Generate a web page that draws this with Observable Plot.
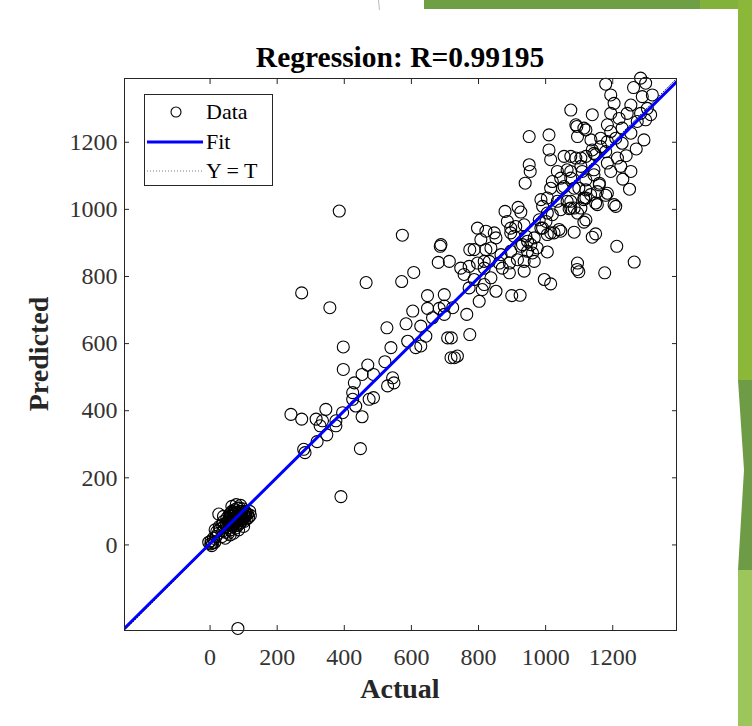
<!DOCTYPE html>
<html><head><meta charset="utf-8">
<script src="https://cdn.jsdelivr.net/npm/d3@7"></script>
<script src="https://cdn.jsdelivr.net/npm/@observablehq/plot@0.6"></script>
<style>
html,body{margin:0;padding:0;background:#fff;}
body{width:752px;height:726px;overflow:hidden;position:relative;font-family:"Liberation Serif","Times New Roman",serif;}
#chart{position:absolute;left:0;top:0;z-index:1;}
#decoLayer{position:absolute;left:0;top:0;width:752px;height:726px;z-index:10;pointer-events:none;}
.title{position:absolute;left:124px;width:552px;top:41px;text-align:center;font-weight:bold;font-size:29.5px;color:#000;line-height:32px;z-index:3;}
.xlabel{position:absolute;left:124px;width:552px;top:673px;text-align:center;font-weight:bold;font-size:28px;color:#262626;line-height:32px;z-index:3;}
.ylabel{position:absolute;left:39px;top:354px;transform:translate(-50%,-50%) rotate(-90deg);font-weight:bold;font-size:28px;color:#262626;white-space:nowrap;line-height:32px;z-index:3;}
.legend{position:absolute;left:144px;top:94px;width:127px;height:90px;border:1px solid #262626;background:#fff;z-index:3;}
.row{position:absolute;left:0;height:30px;width:127px;}
.row svg{position:absolute;left:0;top:0;}
.row span{position:absolute;left:61px;top:2px;font-size:22px;line-height:26px;color:#000;}
</style>
</head><body>
<div id="chart"></div>
<svg id="decoLayer" width="752" height="726" viewBox="0 0 752 726">
  <rect x="424" y="0" width="276" height="9" fill="#6f9f45"/>
  <rect x="700" y="0" width="38" height="9" fill="#82b23c"/>
  <rect x="738" y="0" width="14" height="380" fill="#8cb83a"/>
  <polygon points="738,380 752,380 752,570 738,570 744,470" fill="#6e9b45"/>
  <rect x="738" y="570" width="14" height="156" fill="#9cc65c"/>
  <line x1="378.5" y1="0" x2="379.5" y2="10" stroke="#bbb" stroke-width="1"/>
</svg>
<script>
// ---- data ----
const legendLabels = ["Data", "Fit", "Y = T"];
const titleText = "Regression: R=0.99195";
const xLabel = "Actual";
const yLabel = "Predicted";
const xTicks = [0, 200, 400, 600, 800, 1000, 1200];
const yTicks = [0, 200, 400, 600, 800, 1000, 1200];
const axisDomain = [-255, 1390];
const fitSlope = 0.99;
const fitIntercept = 4;

const actual = [
 // cluster near origin
 2,5,8,3,10,14,-4,18,20,15,25,28,30,26,35,38,40,42,45,48,50,52,55,57,58,60,62,64,65,67,68,70,72,73,75,76,78,80,82,83,85,86,88,90,91,92,94,95,97,98,100,102,104,105,108,110,112,115,118,120,60,70,45,35,55,85,100,78,65,40,
 50,55,60,63,66,70,74,77,80,84,87,90,93,96,99,103,106,58,68,72,82,88,94,62,76,
 // middle region
 385,573,686,680,713,607,571,465,273,357,648,698,604,648,683,698,663,527,584,628,643,708,718,589,613,628,539,397,397,521,470,453,487,430,544,529,548,425,425,434,474,487,395,345,241,273,316,335,328,375,375,453,348,319,279,283,448,390,83,
 // 700-1000 region
 879,918,926,991,1020,1070,1105,1154,1114,1085,1149,1139,1094,1099,1176,996,1015,899,924,1005,936,892,852,802,765,719,774,728,737,688,797,822,847,852,807,774,822,867,886,896,911,936,931,956,975,946,916,892,862,966,986,1025,1015,1045,981,1001,757,772,797,817,832,837,817,772,787,698,723,811,871,747,946,
 1264,1212,1209,1179,1120,1085,
 // upper middle
 951,1010,1010,1015,951,954,939,1093,1120,1095,1135,1164,1179,1144,1075,1105,1035,1075,1045,1109,1144,1160,1020,1015,1050,1085,1120,1154,1005,986,1035,1075,1114,1149,1005,1045,1075,1095,1120,896,906,941,966,991,1005,1040,961,926,896,936,837,787,817,1095,
 // top right
 1179,1283,1298,1262,1194,1288,1318,1204,1254,1075,1139,1194,1243,1303,1313,1283,1219,1090,1114,1184,1194,1228,1273,1298,1254,1293,1209,1184,1228,1164,1139,1055,1090,1120,1149,1214,1184,1224,1254,1144,1194,1105,1064,1075,1120,1160,1055,1099,1134,1184,1204,1114,1064,1240,1270,1230,1250
];
const predicted = [
 3,-2,6,12,20,8,8,25,40,45,35,55,48,92,60,42,70,55,38,65,80,50,72,90,60,45,85,68,100,55,78,92,62,105,80,50,96,70,110,58,88,75,100,65,118,85,95,72,108,80,90,70,100,85,95,78,92,82,100,88,30,35,20,25,35,45,55,120,115,85,
 60,75,70,88,62,80,90,72,85,95,78,88,100,82,96,86,92,66,74,98,64,110,76,94,58,
 995,923,890,842,845,812,785,782,751,707,743,746,697,705,705,687,677,647,659,652,622,617,558,607,588,593,588,590,523,546,536,508,508,483,498,474,483,454,434,414,434,439,394,404,389,375,375,370,355,370,355,382,328,308,285,275,287,144,-249,
 994,1006,992,1009,984,1002,1004,1014,962,932,927,917,821,814,811,791,778,743,744,873,816,811,756,726,687,617,627,558,563,895,944,935,930,915,910,880,880,865,964,930,949,954,895,895,885,875,850,840,840,845,944,930,930,935,969,964,806,830,840,825,845,796,776,766,791,712,707,761,825,825,905,
 843,890,1009,1042,1034,1004,
 1217,1222,1177,1148,1133,1113,1078,1247,1237,1217,1207,1212,1172,1167,1158,1153,1113,1113,1093,1113,1103,1078,1083,1063,1063,1063,1058,1053,1034,1029,1024,1024,1034,1019,989,999,1004,989,969,944,920,920,915,944,925,940,870,890,875,845,885,880,845,840,
 1373,1391,1376,1363,1341,1336,1341,1316,1311,1296,1282,1286,1286,1301,1282,1286,1271,1252,1242,1252,1232,1242,1262,1267,1227,1207,1212,1202,1197,1187,1177,1158,1153,1158,1163,1153,1138,1128,1113,1118,1113,1128,1118,1093,1088,1073,1068,1063,1044,1048,1014,1029,1024,1160,1180,1090,1060
];

const points = actual.map((a, i) => ({actual: a, predicted: predicted[i]}));
const identity = axisDomain.map(t => ({t, v: t}));
const fitLine = axisDomain.map(t => ({t, v: fitSlope * t + fitIntercept}));

const chart = Plot.plot({
  width: 752,
  height: 726,
  marginLeft: 124,
  marginRight: 76,
  marginTop: 78,
  marginBottom: 96,
  x: {domain: axisDomain, label: null},
  y: {domain: axisDomain, label: null},
  style: {fontFamily: "'Liberation Serif', 'Times New Roman', serif", fontSize: "24px", color: "#262626", background: "transparent", overflow: "visible"},
  marks: [
    Plot.dot(points, {x: "actual", y: "predicted", r: 6, stroke: "#000", strokeWidth: 1.1, fill: "none"}),
    Plot.line(identity, {x: "t", y: "v", stroke: "#000", strokeWidth: 0.8, strokeDasharray: "1,2", clip: true}),
    Plot.line(fitLine, {x: "t", y: "v", stroke: "#0000ff", strokeWidth: 3, clip: true}),
    Plot.frame({stroke: "#262626", strokeWidth: 1}),
    Plot.axisX({anchor: "bottom", ticks: xTicks, tickSize: -5, tickPadding: 22, tickFormat: d => String(d), label: null, fill: "#333"}),
    Plot.axisX({anchor: "top", ticks: xTicks, tickSize: -5, tickFormat: () => "", label: null}),
    Plot.axisY({anchor: "left", ticks: yTicks, tickSize: -5, tickPadding: 12, tickFormat: d => String(d), label: null, fill: "#333"}),
    Plot.axisY({anchor: "right", ticks: yTicks, tickSize: -5, tickFormat: () => "", label: null})
  ]
});
document.getElementById("chart").appendChild(chart);

// texts
function addDiv(cls, text) {
  const d = document.createElement("div");
  d.className = cls;
  d.textContent = text;
  document.body.appendChild(d);
  return d;
}
addDiv("title", titleText);
addDiv("xlabel", xLabel);
addDiv("ylabel", yLabel);

// legend
const legend = document.createElement("div");
legend.className = "legend";
legendLabels.forEach((lab, i) => {
  const row = document.createElement("div");
  row.className = "row";
  row.style.top = (2 + i * 29.5) + "px";
  const ns = "http://www.w3.org/2000/svg";
  const svg = document.createElementNS(ns, "svg");
  svg.setAttribute("width", 60); svg.setAttribute("height", 30);
  if (i === 0) {
    const c = document.createElementNS(ns, "circle");
    c.setAttribute("cx", 31); c.setAttribute("cy", 15); c.setAttribute("r", 5);
    c.setAttribute("fill", "none"); c.setAttribute("stroke", "#000"); c.setAttribute("stroke-width", 1.1);
    svg.appendChild(c);
  } else {
    const l = document.createElementNS(ns, "line");
    l.setAttribute("x1", 2); l.setAttribute("x2", 58); l.setAttribute("y1", 15); l.setAttribute("y2", 15);
    if (i === 1) { l.setAttribute("stroke", "#0000ff"); l.setAttribute("stroke-width", 3); }
    else { l.setAttribute("stroke", "#555"); l.setAttribute("stroke-width", 0.8); l.setAttribute("stroke-dasharray", "1,2"); }
    svg.appendChild(l);
  }
  row.appendChild(svg);
  const s = document.createElement("span");
  s.textContent = lab;
  row.appendChild(s);
  legend.appendChild(row);
});
document.body.appendChild(legend);
</script>
</body></html>
